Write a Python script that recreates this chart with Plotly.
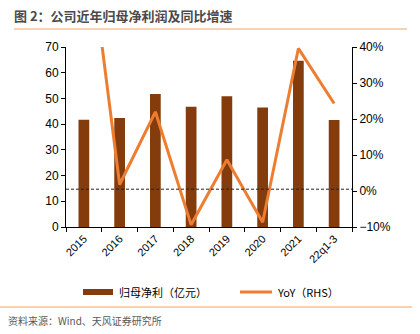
import plotly.graph_objects as go

categories = ["2015", "2016", "2017", "2018", "2019", "2020", "2021", "22q1-3"]
profit = [41.7, 42.4, 51.7, 46.8, 50.8, 46.5, 64.7, 41.6]
yoy = [80.0, 1.8, 22.0, -9.4, 8.7, -8.7, 39.6, 24.3]

L, R, T, B = 66, 68, 47, 107
W, H = 420, 334
pw, ph = W - L - R, H - T - B

def px(x):
    return (x - L) / pw

def py(y):
    return (H - B - y) / ph

cjk = "Noto Sans CJK SC"
latin = "Liberation Sans, Arial"
bar_color = "#843C0C"
line_color = "#ED7D31"

fig = go.Figure()
fig.add_trace(go.Bar(x=categories, y=profit, name="归母净利（亿元）",
                     marker=dict(color=bar_color, line=dict(width=0)), width=0.3))
fig.add_trace(go.Scatter(x=categories, y=yoy, name="YoY（RHS）", yaxis="y2",
                         mode="lines", line=dict(color=line_color, width=3)))

fig.update_layout(
    width=W, height=H,
    margin=dict(l=L, r=R, t=T, b=B),
    paper_bgcolor="white", plot_bgcolor="white",
    font=dict(family=latin, size=11, color="#000000"),
    showlegend=False,
    xaxis=dict(showline=True, linecolor="#000", linewidth=1, ticks="outside",
               tickson="boundaries", ticklen=4, tickcolor="#000", tickangle=-45,
               tickfont=dict(size=11, family=latin), showgrid=False),
    yaxis=dict(range=[0, 70], dtick=10, showline=True, linecolor="#000", linewidth=1,
               ticks="outside", ticklen=4, tickcolor="#000", showgrid=False,
               zeroline=False, tickfont=dict(size=12, family=latin)),
    yaxis2=dict(range=[-10, 40], dtick=10, overlaying="y", side="right",
                showline=True, linecolor="#000", linewidth=1, ticks="outside",
                ticklen=4, tickcolor="#000", ticksuffix="%", showgrid=False,
                zeroline=False, tickfont=dict(size=12, family=latin)),
    title=dict(text="<b>图 2：公司近年归母净利润及同比增速</b>", x=14 / W, xanchor="left",
               y=1 - 16 / H, yanchor="middle", yref="container",
               font=dict(size=13, color="#4a4a4a", family=cjk)),
)

# rules
fig.add_shape(type="line", xref="paper", yref="paper", x0=px(14), x1=px(407),
              y0=py(29), y1=py(29), line=dict(color="#F4A460", width=1))
fig.add_shape(type="line", xref="paper", yref="paper", x0=px(0), x1=px(412),
              y0=py(307), y1=py(307), line=dict(color="#F4A460", width=1))
# reference dashed line
fig.add_shape(type="line", xref="paper", yref="y2", x0=0, x1=1, y0=0.5, y1=0.5,
              line=dict(color="#222", width=1, dash="3px,2px"))

# custom legend
ly = py(292)
fig.add_shape(type="rect", xref="paper", yref="paper", x0=px(83), x1=px(113),
              y0=py(295), y1=py(289), fillcolor=bar_color, line=dict(width=0))
fig.add_annotation(text="归母净利（亿元）", xref="paper", yref="paper", x=px(117), y=ly,
                   xanchor="left", yanchor="middle", showarrow=False,
                   font=dict(size=11, color="#000", family=cjk))
fig.add_shape(type="line", xref="paper", yref="paper", x0=px(240), x1=px(272),
              y0=ly, y1=ly, line=dict(color=line_color, width=3))
fig.add_annotation(text="YoY（RHS）", xref="paper", yref="paper", x=px(275), y=ly,
                   xanchor="left", yanchor="middle", showarrow=False,
                   font=dict(size=11, color="#000", family=cjk))

fig.add_annotation(text="资料来源：Wind、天风证券研究所", xref="paper", yref="paper",
                   x=px(6), y=py(320), xanchor="left", yanchor="middle", showarrow=False,
                   font=dict(size=10, color="#595959", family=cjk))

fig.write_html("out.html")
